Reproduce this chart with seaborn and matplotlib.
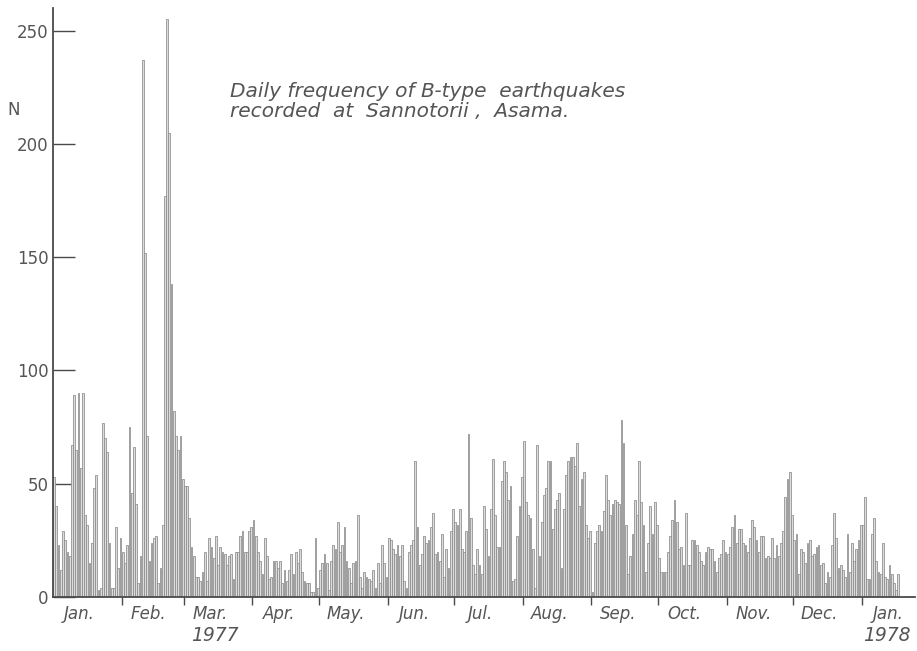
import numpy as np
import pandas as pd
import matplotlib
matplotlib.use("Agg")
import matplotlib.pyplot as plt
import matplotlib.transforms as mtransforms
import seaborn as sns

# ---- data (daily counts) ----
jan77 = [53, 40, 23, 12, 29, 25, 20, 18, 67, 89, 65, 90, 57, 90, 36, 32, 15, 24, 48, 54,
         3, 4, 77, 70, 64, 24, 4, 4, 31, 13, 26]
feb77 = [20, 15, 23, 75, 46, 66, 41, 6, 18, 237, 152, 71, 16, 24, 26, 27, 6, 13, 32, 177,
         255, 205, 138, 82, 71, 65, 71, 52]
mar77 = [49, 49, 35, 22, 18, 9, 9, 7, 11, 20, 7, 26, 22, 17, 27, 14, 22, 20, 19, 14,
         18, 19, 8, 20, 20, 27, 29, 20, 20, 29, 31]
apr77 = [34, 27, 20, 16, 10, 26, 18, 8, 9, 16, 16, 13, 16, 6, 12, 7, 12, 19, 10, 20,
         15, 21, 11, 7, 6, 6, 2, 2, 26, 4]
may77 = [12, 15, 19, 15, 3, 16, 23, 21, 33, 20, 23, 31, 16, 13, 6, 15, 16, 36, 9, 4,
         11, 9, 8, 7, 12, 4, 15, 6, 23, 15, 9]
jun77 = [26, 25, 21, 19, 23, 18, 23, 7, 4, 20, 23, 25, 60, 31, 14, 19, 27, 24, 25, 31,
         37, 19, 20, 16, 28, 9, 21, 13, 29, 39]
jul77 = [33, 32, 39, 21, 20, 29, 72, 35, 14, 10, 21, 14, 10, 40, 30, 18, 39, 61, 36, 22,
         22, 51, 60, 55, 43, 49, 7, 8, 27, 40, 53]
aug77 = [69, 42, 36, 35, 21, 4, 67, 18, 33, 45, 48, 60, 60, 30, 39, 43, 46, 13, 39, 54,
         60, 62, 62, 58, 68, 40, 52, 55, 32, 26, 29]
sep77 = [2, 24, 29, 32, 29, 38, 54, 43, 36, 41, 43, 42, 41, 78, 68, 32, 10, 18, 28, 43,
         36, 60, 42, 32, 11, 24, 40, 28, 42, 32]
oct77 = [17, 11, 11, 11, 20, 27, 34, 43, 33, 21, 22, 14, 37, 14, 14, 25, 25, 23, 20, 16,
         14, 20, 22, 21, 21, 16, 11, 17, 19, 25, 20]
nov77 = [19, 22, 31, 36, 24, 30, 30, 24, 23, 20, 26, 34, 31, 25, 20, 27, 27, 17, 18, 17,
         26, 17, 23, 18, 24, 29, 44, 52, 55, 36]
dec77 = [25, 28, 10, 21, 20, 15, 24, 25, 18, 19, 22, 23, 14, 15, 6, 11, 9, 23, 37, 26,
         13, 14, 12, 9, 28, 11, 24, 16, 21, 25, 32]
jan78 = [32, 44, 8, 8, 28, 35, 16, 11, 10, 24, 9, 8, 14, 10, 6, 3, 10]

month_labels = ["Jan.", "Feb.", "Mar.", "Apr.", "May.", "Jun.", "Jul.", "Aug.",
                "Sep.", "Oct.", "Nov.", "Dec.", "Jan."]
month_lengths = [31, 28, 31, 30, 31, 30, 31, 31, 30, 31, 30, 31, 31]
year_labels = ["1977", "1978"]
y_ticks = [0, 50, 100, 150, 200, 250]
title_lines = ["Daily frequency of B-type  earthquakes",
               "recorded  at  Sannotorii ,  Asama."]

counts = jan77 + feb77 + mar77 + apr77 + may77 + jun77 + jul77 + aug77 + sep77 + oct77 + nov77 + dec77 + jan78
df = pd.DataFrame({"day": np.arange(len(counts)), "N": counts})

# ---- figure ----
sns.set_theme(style="white")
plt.rcParams["font.family"] = ["DejaVu Sans"]
W, H = 917, 651
fig = plt.figure(figsize=(W / 100, H / 100), dpi=100)
ax = fig.add_axes([53 / W, 54 / H, (915 - 53) / W, (597 - 8) / H])

sns.barplot(data=df, x="day", y="N", ax=ax, errorbar=None, width=0.8,
            color="#dcdcdc", saturation=1, edgecolor="#8a8a8a", linewidth=0.55)

ax.set_xlim(-0.5, 388.5)
ax.set_ylim(0, 260)

ink = "#4a4a4a"
txt = "#555555"
for s in ["top", "right"]:
    ax.spines[s].set_visible(False)
for s in ["left", "bottom"]:
    ax.spines[s].set_color(ink)
    ax.spines[s].set_linewidth(1.3)

# y axis
ax.set_yticks(y_ticks)
ax.set_yticklabels([str(v) for v in y_ticks], fontsize=12, color=txt)
ax.tick_params(axis="y", direction="in", length=16, width=1.0, color=ink, pad=3, left=True)
ax.set_ylabel("")
ax.set_xlabel("")

# x axis: month boundaries as major ticks, labels as minor ticks
starts = np.concatenate([[0], np.cumsum(month_lengths)[:-1]])
bounds = starts[1:] - 0.5
ax.set_xticks(bounds)
ax.set_xticklabels([])
ax.tick_params(axis="x", which="major", direction="out", length=6, width=1.0,
               color=ink, bottom=True)
label_pos = starts + 11.5
ax.set_xticks(label_pos, minor=True)
ax.set_xticklabels(month_labels, minor=True, fontsize=12, style="italic", color=txt)
ax.tick_params(axis="x", which="minor", length=0, pad=6, bottom=True)

# year labels
trans = mtransforms.blended_transform_factory(ax.transData, ax.transAxes)
ax.text(starts[2] + 13.5, -0.066, year_labels[0], transform=trans, ha="center", va="center",
        fontsize=13.5, style="italic", color=txt)
ax.text(starts[12] + 11, -0.066, year_labels[1], transform=trans, ha="center", va="center",
        fontsize=13.5, style="italic", color=txt)

# N label and title
fig.text(14 / W, 1 - 110 / H, "N", fontsize=12, color=txt, ha="center", va="center")
fig.text(230 / W, 1 - 82 / H, "\n".join(title_lines), fontsize=14.5, style="italic",
         color=txt, ha="left", va="top", linespacing=1.05)

fig.savefig("out.png", dpi=100)
